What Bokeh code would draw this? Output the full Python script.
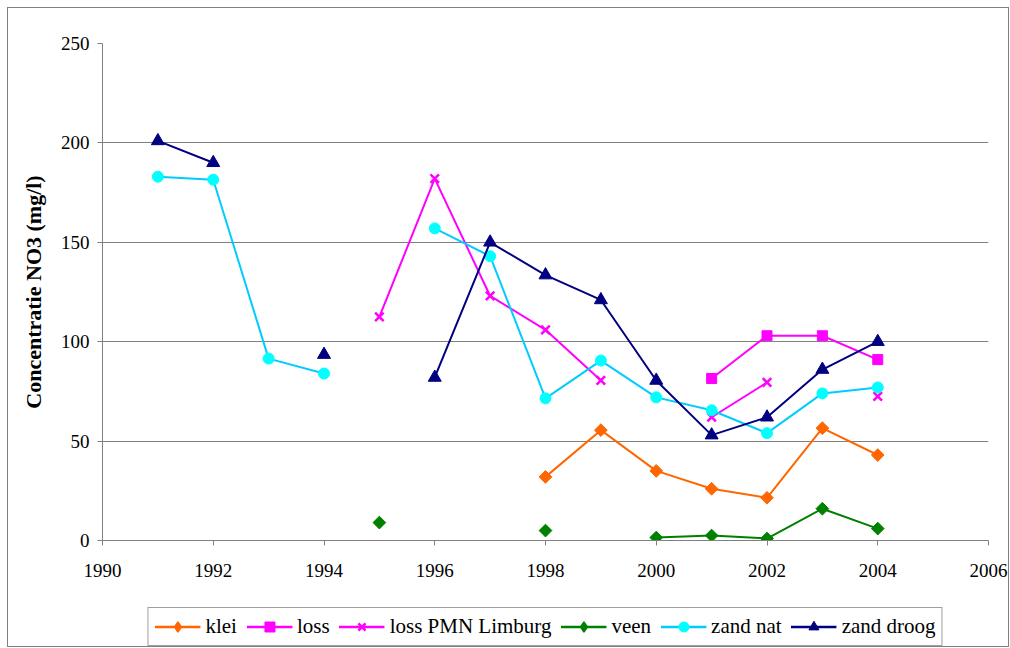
import math
from bokeh.plotting import figure
from bokeh.layouts import column
from bokeh.models import Legend, LegendItem, FixedTicker, Range1d, ColumnDataSource
from bokeh.embed import file_html
from bokeh.resources import INLINE

nan = float("nan")
years = [1991, 1992, 1993, 1994, 1995, 1996, 1997, 1998, 1999, 2000, 2001, 2002, 2003, 2004]
klei = [nan, nan, nan, nan, nan, nan, nan, 32, 55.5, 35, 26, 21.5, 56.5, 43]
loss = [nan, nan, nan, nan, nan, nan, nan, nan, nan, nan, 81.5, 103, 103, 91]
loss_pmn = [nan, nan, nan, nan, 112.5, 182, 123, 106, 80.5, nan, 62, 79.5, nan, 72.5]
veen = [nan, nan, nan, nan, 9, nan, nan, 5, nan, 1.5, 2.5, 1, 16, 6]
zand_nat = [183, 181.5, 91.5, 84, nan, 157, 143, 71.5, 90.5, 72, 65.5, 54, 74, 77]
zand_droog = [201, 190, nan, 93.5, nan, 82, 150, 133.5, 121, 80.5, 53, 62, 86, 100]

x_ticks = [1990, 1992, 1994, 1996, 1998, 2000, 2002, 2004, 2006]
y_ticks = [0, 50, 100, 150, 200, 250]

FONT = "Liberation Serif"

p = figure(width=1000, height=592, output_backend="svg", toolbar_location=None,
           x_range=Range1d(1990, 2006), y_range=Range1d(0, 250),
           min_border_left=94, min_border_right=20, min_border_top=35, min_border_bottom=60)
p.outline_line_color = None
p.background_fill_color = "white"
p.border_fill_color = "white"

p.xgrid.grid_line_color = None
p.ygrid.grid_line_color = "#808080"
p.ygrid.grid_line_width = 1

for ax in (p.xaxis[0], p.yaxis[0]):
    ax.axis_line_color = "#808080"
    ax.major_tick_line_color = "#808080"
    ax.major_tick_out = 5
    ax.major_tick_in = 0
    ax.minor_tick_line_color = None
    ax.major_label_text_font = FONT
    ax.major_label_text_font_size = "19px"
    ax.major_label_text_color = "black"

p.xaxis.ticker = FixedTicker(ticks=x_ticks)
p.yaxis.ticker = FixedTicker(ticks=y_ticks)
p.xaxis.major_label_standoff = 18
p.yaxis.major_label_standoff = 8
p.yaxis.axis_label = "Concentratie NO3 (mg/l)"
p.yaxis.axis_label_text_font = FONT
p.yaxis.axis_label_text_font_size = "22px"
p.yaxis.axis_label_text_font_style = "bold"
p.yaxis.axis_label_text_color = "black"
p.yaxis.axis_label_standoff = 12

src = ColumnDataSource(dict(x=years, klei=klei, loss=loss, pmn=loss_pmn, veen=veen,
                            nat=zand_nat, droog=zand_droog))

series = [
    ("klei", "klei", "#FF6600", "#FF6600", "diamond", 9),
    ("loss", "loss", "#FF00FF", "#FF00FF", "square", 10),
    ("loss PMN Limburg", "pmn", "#FF00FF", "#FF00FF", "x", 12),
    ("veen", "veen", "#008000", "#008000", "diamond", 9),
    ("zand nat", "nat", "#00CCFF", "#00FFFF", "circle", 11),
    ("zand droog", "droog", "#000080", "#000080", "triangle", 13),
]

# legend strip (separate canvas below the chart)
p2 = figure(width=1000, height=46, output_backend="svg", toolbar_location=None,
            x_range=Range1d(0, 1), y_range=Range1d(0, 1),
            x_axis_location=None, y_axis_location=None,
            min_border_left=94, min_border_right=20, min_border_top=0, min_border_bottom=0)
p2.outline_line_color = None
p2.xgrid.grid_line_color = None
p2.ygrid.grid_line_color = None
p2.background_fill_color = "white"
p2.border_fill_color = "white"
dummy = ColumnDataSource(dict(x=[-5.0, -6.0], y=[-5.0, -6.0]))


def add_marker(fig, source, xcol, ycol, marker, size, mc, in_legend=False):
    if marker == "x":
        return fig.scatter(xcol, ycol, source=source, marker="x", size=size, line_color=mc, line_width=2.5)
    if marker == "diamond":
        if in_legend:
            return fig.scatter(xcol, ycol, source=source, marker="diamond", size=size,
                               fill_color=mc, line_color=mc, line_width=1.5)
        return fig.scatter(xcol, ycol, source=source, marker="square", angle=math.pi / 4, size=size,
                           fill_color=mc, line_color=mc)
    return fig.scatter(xcol, ycol, source=source, marker=marker, size=size, fill_color=mc, line_color=mc)


items = []
for label, col, lc, mc, marker, size in series:
    p.line("x", col, source=src, line_color=lc, line_width=2)
    add_marker(p, src, "x", col, marker, size, mc)
    l2 = p2.line("x", "y", source=dummy, line_color=lc, line_width=2.5)
    m2 = add_marker(p2, dummy, "x", "y", marker, size, mc, in_legend=True)
    items.append(LegendItem(label=label, renderers=[l2, m2]))

legend = Legend(items=items, orientation="horizontal", location="top_center",
                label_text_font=FONT, label_text_font_size="21px", label_text_color="black",
                glyph_width=46, glyph_height=25, label_standoff=5, spacing=9,
                padding=6, margin=7,
                border_line_color="#404040", border_line_width=1,
                background_fill_color="white", background_fill_alpha=1)
p2.add_layout(legend, "center")

layout = column(p, p2, spacing=0,
                styles={"border": "1px solid #808080", "margin": "7px 0 0 7px"})

open("out.html", "w").write(file_html(layout, INLINE))
